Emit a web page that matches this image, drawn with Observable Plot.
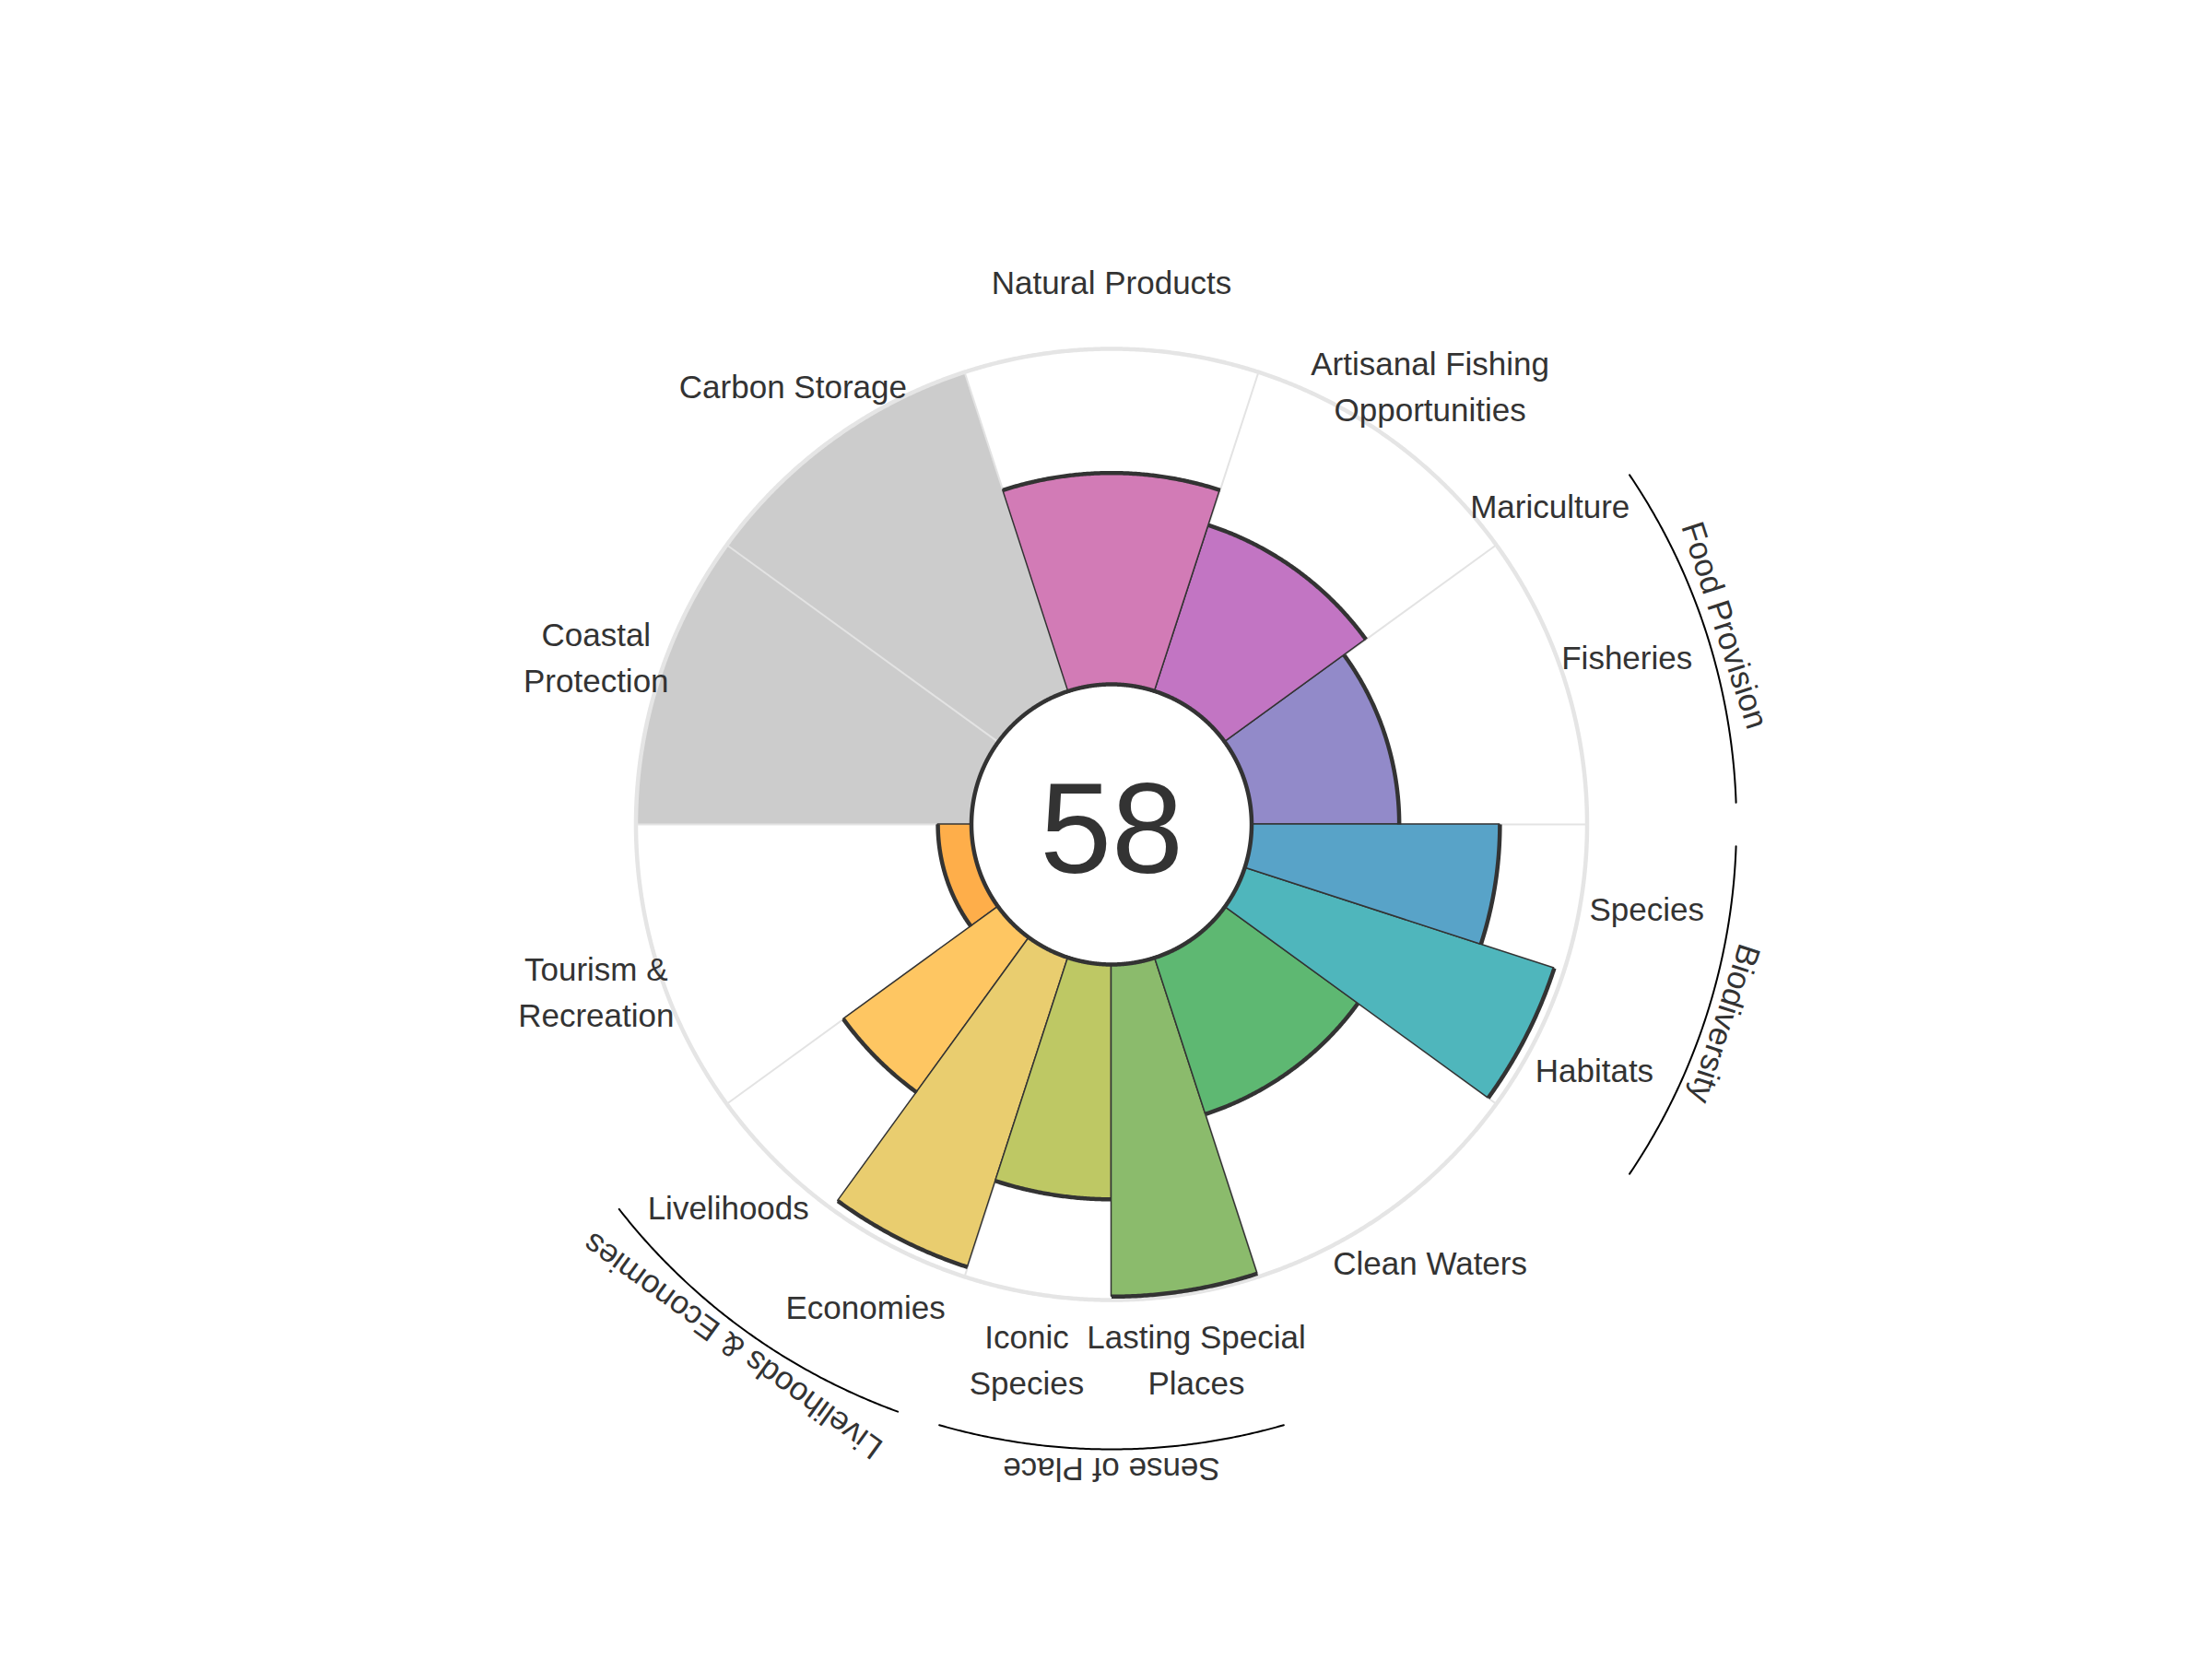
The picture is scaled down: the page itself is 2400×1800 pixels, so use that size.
<!DOCTYPE html>
<html>
<head>
<meta charset="utf-8">
<script src="https://cdn.jsdelivr.net/npm/d3@7"></script>
<script src="https://cdn.jsdelivr.net/npm/@observablehq/plot@0.6"></script>
<style>
  body { margin: 0; background: #ffffff; }
</style>
</head>
<body>
<div id="chart"></div>
<script>
// ---------------- DATA ----------------
const goals = ["Fisheries", "Mariculture", "Artisanal Fishing Opportunities", "Natural Products",
  "Carbon Storage", "Coastal Protection", "Tourism & Recreation", "Livelihoods", "Economies",
  "Iconic Species", "Lasting Special Places", "Clean Waters", "Habitats", "Species"];
const goalLabels = ["Fisheries", "Mariculture", "Artisanal Fishing\nOpportunities", "Natural Products",
  "Carbon Storage", "Coastal\nProtection", "Tourism &\nRecreation", "Livelihoods", "Economies",
  "Iconic\nSpecies", "Lasting Special\nPlaces", "Clean Waters", "Habitats", "Species"];
const goalWeights = [1, 0, 1, 1, 1, 1, 1, 0.5, 0.5, 0.5, 0.5, 1, 0.5, 0.5];
const goalScores = [44, null, 52, 63, null, null, 10, 57, 97, 70, 99, 49, 97, 74];
const goalColors = ["#928ac9", "#a98cc6", "#c275c3", "#d27bb6", "#cccccc", "#cccccc", "#feae4a",
  "#fec662", "#e9cd6f", "#bec864", "#8bbb6c", "#5eb872", "#4fb6bc", "#58a3c8"];
const groupNames = ["Food Provision", "Biodiversity", "Sense of Place", "Livelihoods & Economies"];
const groupMembers = [["Fisheries", "Mariculture"], ["Habitats", "Species"],
  ["Iconic Species", "Lasting Special Places"], ["Livelihoods", "Economies"]];
const indexScore = 58;
const naColor = "#cccccc";

// ---------------- LAYOUT ----------------
const W = 2400, H = 1800, CX = 1205.5, CY = 894, K = 3.64; // px per unit
const HOLE = 152 / K;          // inner hole radius, in score units
const FULL = 100;              // max score
const LABEL_R = 588 / K;
const GROUP_ARC_R = 678 / K;
const GROUP_LABEL_R = 699 / K;
const FONT = "'Liberation Sans', Arial, Helvetica, sans-serif";

const rad = d => d * Math.PI / 180;
const px = (r, a) => r * Math.cos(rad(a));
const py = (r, a) => r * Math.sin(rad(a));
function arc(a0, a1, r, extra = {}) {
  const n = Math.max(2, Math.ceil(Math.abs(a1 - a0) / 0.25) + 1);
  return d3.range(n).map(i => {
    const a = a0 + (a1 - a0) * i / (n - 1);
    return {...extra, a, x: px(r, a), y: py(r, a)};
  });
}

const totalW = d3.sum(goalWeights);
let acc = 0;
const petals = goals.map((g, i) => {
  const a0 = acc / totalW * 360;
  acc += goalWeights[i];
  const a1 = acc / totalW * 360;
  return {goal: g, label: goalLabels[i], a0, a1, mid: (a0 + a1) / 2,
    score: goalScores[i], color: goalColors[i], w: goalWeights[i]};
});
const drawn = petals.filter(p => p.w > 0);
const naPetals = drawn.filter(p => p.score == null);
const valPetals = drawn.filter(p => p.score != null);

function wedgeRows(p, v) {
  return arc(p.a0, p.a1, HOLE + v).map(pt => ({
    x1: pt.x, y1: pt.y, x2: px(HOLE, pt.a), y2: py(HOLE, pt.a)
  }));
}

// spokes at sector boundaries (integer cumulative weights)
const spokeAngles = [];
{ let c = 0; spokeAngles.push(0);
  goalWeights.forEach(w => { c += w; if (Math.abs(c - Math.round(c)) < 1e-9 && c < totalW && w > 0) spokeAngles.push(c / totalW * 360); }); }
const spokes = [...new Set(spokeAngles)].map(a => ({
  x1: px(HOLE, a), y1: py(HOLE, a), x2: px(HOLE + FULL, a), y2: py(HOLE + FULL, a)
}));

const labelRows = petals.map(p => ({x: px(LABEL_R, p.mid), y: py(LABEL_R, p.mid), text: p.label}));

const groupArcs = [], groupLabels = [];
groupNames.forEach((gname, gi) => {
  const mem = petals.filter(p => groupMembers[gi].includes(p.goal));
  const a0 = d3.min(mem, p => p.a0) + 2, a1 = d3.max(mem, p => p.a1) - 2;
  groupArcs.push(...arc(a0, a1, GROUP_ARC_R, {group: gname}));
  const mid = (a0 + a1) / 2;
  groupLabels.push({x: px(GROUP_LABEL_R, mid), y: py(GROUP_LABEL_R, mid), text: gname, rot: 90 - mid});
});

const outerCircle = arc(0, 360, HOLE + FULL);
const holeCircle = arc(0, 360, HOLE);

const plot = Plot.plot({
  width: W, height: H,
  margin: 0,
  x: {domain: [-CX / K, (W - CX) / K], range: [0, W], axis: null},
  y: {domain: [-(H - CY) / K, CY / K], range: [H, 0], axis: null},
  style: {background: "#ffffff", fontFamily: FONT},
  marks: [
    ...naPetals.map(p => Plot.area(wedgeRows(p, FULL), {x1: "x1", y1: "y1", x2: "x2", y2: "y2", fill: naColor})),
    Plot.link(spokes, {x1: "x1", y1: "y1", x2: "x2", y2: "y2", stroke: "#e3e3e3", strokeWidth: 2}),
    Plot.line(outerCircle, {x: "x", y: "y", stroke: "#e5e5e5", strokeWidth: 4.5}),
    ...valPetals.map(p => Plot.area(wedgeRows(p, p.score), {x1: "x1", y1: "y1", x2: "x2", y2: "y2",
      fill: p.color, stroke: "#333333", strokeWidth: 1.5, strokeLinejoin: "miter"})),
    ...valPetals.map(p => Plot.line(arc(p.a0, p.a1, HOLE + p.score), {x: "x", y: "y",
      stroke: "#333333", strokeWidth: 4.5, strokeLinecap: "butt"})),
    Plot.line(holeCircle, {x: "x", y: "y", fill: "#ffffff", stroke: "#333333", strokeWidth: 4.5}),
    Plot.text([{x: 0, y: 0, text: String(indexScore)}], {x: "x", y: "y", text: "text",
      fontSize: 140, fill: "#333333", fontFamily: FONT, dy: 8}),
    Plot.text(labelRows, {x: "x", y: "y", text: "text", fontSize: 35, lineHeight: 1.42,
      fill: "#333333", fontFamily: FONT, dy: -3}),
    Plot.line(groupArcs, {x: "x", y: "y", z: "group", stroke: "#000000", strokeWidth: 2}),
    Plot.text(groupLabels, {x: "x", y: "y", text: "text", rotate: "rot", fontSize: 35,
      fill: "#333333", fontFamily: FONT})
  ]
});
document.getElementById("chart").appendChild(plot);
</script>
</body>
</html>
